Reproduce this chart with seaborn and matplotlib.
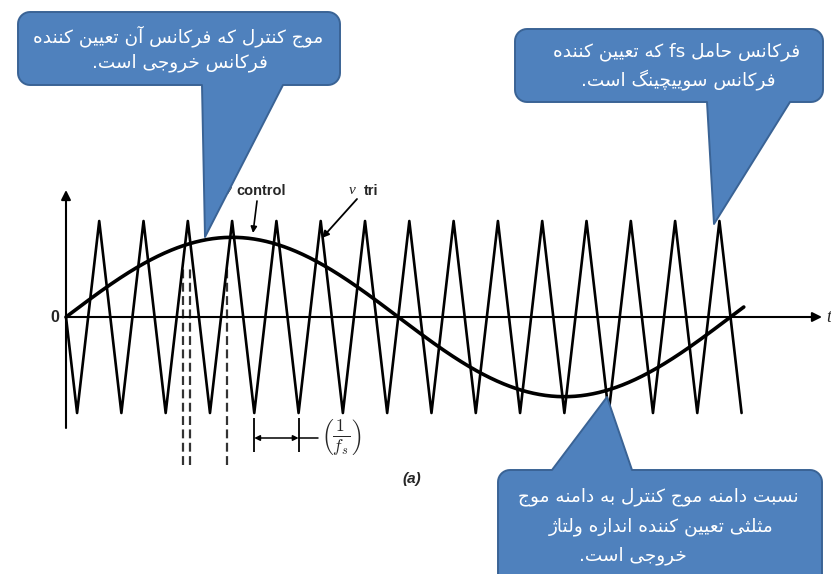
import numpy as np
import pandas as pd
import matplotlib
matplotlib.use("Agg")
import matplotlib.pyplot as plt
from matplotlib.patches import Polygon
import seaborn as sns

# ---------------- data ----------------
# carrier (triangle) vertices; time measured in carrier periods
tri_t = [0.0, 0.25, 0.75, 1.25, 1.75, 2.25, 2.75, 3.25, 3.75, 4.25, 4.75,
         5.25, 5.75, 6.25, 6.75, 7.25, 7.75, 8.25, 8.75, 9.25, 9.75, 10.25,
         10.75, 11.25, 11.75, 12.25, 12.75, 13.25, 13.75, 14.25, 14.75, 15.25]
tri_v = [0, -1, 1, -1, 1, -1, 1, -1, 1, -1, 1, -1, 1, -1, 1, -1,
         1, -1, 1, -1, 1, -1, 1, -1, 1, -1, 1, -1, 1, -1, 1, -1]

# control (sine) signal: amplitude ratio and frequency ratio to the carrier
ctrl_amp = 0.83
ctrl_mf = 15.0
ctrl_end = 15.3

# switching instants marked with dashed lines, and one carrier period
switch_t = [2.64, 2.80, 3.63]
period_t = [4.25, 5.25]

box_texts = {
    "control": ["موج کنترل که فرکانس آن تعیین کننده", "فرکانس خروجی است."],
    "carrier": ["فرکانس حامل fs که تعیین کننده", "فرکانس سوییچینگ است."],
    "ratio": ["نسبت دامنه موج کنترل به دامنه موج",
              "مثلثی تعیین کننده اندازه ولتاژ", "خروجی است."],
}

# ---------------- persian text shaping ----------------
FORMS = {
    'ا': ('\ufe8d', '\ufe8e'), 'آ': ('\ufe81', '\ufe82'), 'د': ('\ufea9', '\ufeaa'),
    'ر': ('\ufead', '\ufeae'), 'ز': ('\ufeaf', '\ufeb0'), 'ژ': ('\ufb8a', '\ufb8b'),
    'و': ('\ufeed', '\ufeee'),
    'ب': ('\ufe8f', '\ufe90', '\ufe91', '\ufe92'),
    'ت': ('\ufe95', '\ufe96', '\ufe97', '\ufe98'),
    'ث': ('\ufe99', '\ufe9a', '\ufe9b', '\ufe9c'),
    'ج': ('\ufe9d', '\ufe9e', '\ufe9f', '\ufea0'),
    'چ': ('\ufb7a', '\ufb7b', '\ufb7c', '\ufb7d'),
    'ح': ('\ufea1', '\ufea2', '\ufea3', '\ufea4'),
    'خ': ('\ufea5', '\ufea6', '\ufea7', '\ufea8'),
    'س': ('\ufeb1', '\ufeb2', '\ufeb3', '\ufeb4'),
    'ع': ('\ufec9', '\ufeca', '\ufecb', '\ufecc'),
    'ف': ('\ufed1', '\ufed2', '\ufed3', '\ufed4'),
    'ک': ('\ufb8e', '\ufb8f', '\ufb90', '\ufb91'),
    'گ': ('\ufb92', '\ufb93', '\ufb94', '\ufb95'),
    'ل': ('\ufedd', '\ufede', '\ufedf', '\ufee0'),
    'م': ('\ufee1', '\ufee2', '\ufee3', '\ufee4'),
    'ن': ('\ufee5', '\ufee6', '\ufee7', '\ufee8'),
    'ه': ('\ufee9', '\ufeea', '\ufeeb', '\ufeec'),
    'ی': ('\ufbfc', '\ufbfd', '\ufbfe', '\ufbff'),
}


def shape_word(w):
    out = []
    for i, c in enumerate(w):
        f = FORMS.get(c)
        if f is None:
            out.append(c)
            continue
        prev = w[i - 1] if i > 0 else None
        nxt = w[i + 1] if i + 1 < len(w) else None
        jp = prev in FORMS and len(FORMS[prev]) == 4
        jn = len(f) == 4 and nxt in FORMS
        if len(f) == 2:
            out.append(f[1] if jp else f[0])
        else:
            out.append(f[3] if (jp and jn) else f[1] if jp else f[2] if jn else f[0])
    return ''.join(out)


def rtl(line):
    vis = []
    for tok in line.split(' '):
        trail = ''
        if tok.endswith('.'):
            tok, trail = tok[:-1], '.'
        if any(c in FORMS for c in tok):
            tok = shape_word(tok)[::-1]
        vis.append(trail + tok)
    return ' '.join(vis[::-1])


# ---------------- figure ----------------
sns.set_theme(style="white")
plt.rcParams['font.family'] = ['DejaVu Sans']
plt.rcParams['mathtext.fontset'] = 'cm'

W, H = 831, 574
X0, PX_T = 66.0, 44.3      # pixel of t=0 and pixels per carrier period
Y0, PX_V = 317.0, 96.0     # pixel of v=0 and pixels per unit amplitude

fig = plt.figure(figsize=(W / 100, H / 100), dpi=100)
ax = fig.add_axes([0, 0, 1, 1])
ax.set_xlim(-X0 / PX_T, (W - X0) / PX_T)
ax.set_ylim((Y0 - H) / PX_V, Y0 / PX_V)
ax.axis('off')

tri_df = pd.DataFrame({"t": tri_t, "v": tri_v})
t_c = np.linspace(0, ctrl_end, 800)
ctrl_df = pd.DataFrame({"t": t_c, "v": ctrl_amp * np.sin(2 * np.pi * t_c / ctrl_mf)})

sns.lineplot(data=tri_df, x="t", y="v", sort=False, estimator=None, ax=ax,
             color="black", lw=1.9, zorder=3)
sns.lineplot(data=ctrl_df, x="t", y="v", sort=False, estimator=None, ax=ax,
             color="black", lw=2.6, zorder=4)

# axes with arrow heads
t_axis_end = (822 - X0) / PX_T
v_top, v_bot = (Y0 - 190) / PX_V, (Y0 - 428) / PX_V
ax.annotate("", xy=(t_axis_end, 0), xytext=(0, 0),
            arrowprops=dict(arrowstyle="-|>", lw=1.5, color="black",
                            mutation_scale=14, shrinkA=0, shrinkB=0))
ax.annotate("", xy=(0, v_top), xytext=(0, v_bot),
            arrowprops=dict(arrowstyle="-|>", lw=1.5, color="black",
                            mutation_scale=14, shrinkA=0, shrinkB=0))
ax.text(-0.25, 0, "0", ha="center", va="center", fontsize=11.5,
        family="Liberation Sans", fontweight="bold")
ax.text((826 - X0) / PX_T, 0, "t", ha="left", va="center", fontsize=13,
        style="italic", family="Liberation Serif")

# switching instants
ax.vlines(switch_t, (Y0 - 465) / PX_V, (Y0 - 268) / PX_V, colors="#333333",
          linestyles=(0, (4, 2)), lw=1.6, zorder=2)

# one carrier period marker
tick_lo, tick_hi = (Y0 - 452) / PX_V, (Y0 - 418) / PX_V
bar_y = (Y0 - 438) / PX_V
ax.vlines(period_t, tick_lo, tick_hi, colors="black", lw=1.3)
ax.annotate("", xy=(period_t[0], bar_y), xytext=(period_t[1], bar_y),
            arrowprops=dict(arrowstyle="<|-|>", lw=1.1, color="black",
                            mutation_scale=8, shrinkA=0, shrinkB=0))
ax.plot([period_t[1], (318 - X0) / PX_T], [bar_y, bar_y], color="black", lw=1.1)
ax.text((341 - X0) / PX_T, bar_y, r"$\left(\frac{1}{f_s}\right)$",
        ha="center", va="center", fontsize=18)
ax.text((412 - X0) / PX_T, (Y0 - 479) / PX_V, "(a)", ha="center", va="center",
        fontsize=11, fontweight="bold", style="italic", family="Liberation Sans")

# ---------------- overlay in pixel coordinates ----------------
ov = fig.add_axes([0, 0, 1, 1], zorder=5)
ov.set_xlim(0, W)
ov.set_ylim(H, 0)
ov.axis('off')
ov.patch.set_alpha(0)

# curve labels with pointers
ov.text(228, 191, "v", ha="center", va="center", fontsize=11, style="italic",
        family="Liberation Serif", zorder=1)
ov.text(261, 191, "control", ha="center", va="center", fontsize=10.5,
        family="Liberation Sans", fontweight="bold", zorder=1)
ov.annotate("", xy=(253, 233), xytext=(257, 201),
            arrowprops=dict(arrowstyle="-|>", lw=1.2, color="black",
                            mutation_scale=9, shrinkA=0, shrinkB=0))
ov.text(352, 190, "v", ha="center", va="center", fontsize=11, style="italic",
        family="Liberation Serif")
ov.text(371, 191, "tri", ha="center", va="center", fontsize=10.5,
        family="Liberation Sans", fontweight="bold")
ov.annotate("", xy=(322, 238), xytext=(357, 199),
            arrowprops=dict(arrowstyle="-|>", lw=1.3, color="black",
                            mutation_scale=10, shrinkA=0, shrinkB=0))


def callout(x0, y0, x1, y1, base, tip, side, r=12):
    pts = []

    def arc(cx, cy, a0, a1):
        for a in np.linspace(a0, a1, 10):
            pts.append((cx + r * np.cos(a), cy + r * np.sin(a)))

    arc(x0 + r, y0 + r, np.pi, 1.5 * np.pi)
    if side == "top":
        pts += [(base[0], y0), tip, (base[1], y0)]
    arc(x1 - r, y0 + r, 1.5 * np.pi, 2 * np.pi)
    arc(x1 - r, y1 - r, 0, 0.5 * np.pi)
    if side == "bottom":
        pts += [(base[1], y1), tip, (base[0], y1)]
    arc(x0 + r, y1 - r, 0.5 * np.pi, np.pi)
    ov.add_patch(Polygon(pts, closed=True, fc="#4F81BD", ec="#3A6395",
                         lw=1.4, joinstyle="round", zorder=3))


callout(18, 12, 340, 85, (202, 283), (205, 237), "bottom")
callout(515, 29, 823, 102, (707, 790), (714, 224), "bottom")
callout(498, 470, 822, 600, (552, 632), (607, 397), "top")

txt_kw = dict(ha="center", va="center", color="white", fontsize=13.3,
              family="DejaVu Sans", zorder=4)
for (x, y), line in zip([(178, 36), (180, 63)], box_texts["control"]):
    ov.text(x, y, rtl(line), **txt_kw)
for (x, y), line in zip([(677, 52), (678, 80)], box_texts["carrier"]):
    ov.text(x, y, rtl(line), **txt_kw)
for (x, y), line in zip([(658, 497), (661, 527), (633, 556)], box_texts["ratio"]):
    ov.text(x, y, rtl(line), **txt_kw)

fig.savefig("out.png", dpi=100)
